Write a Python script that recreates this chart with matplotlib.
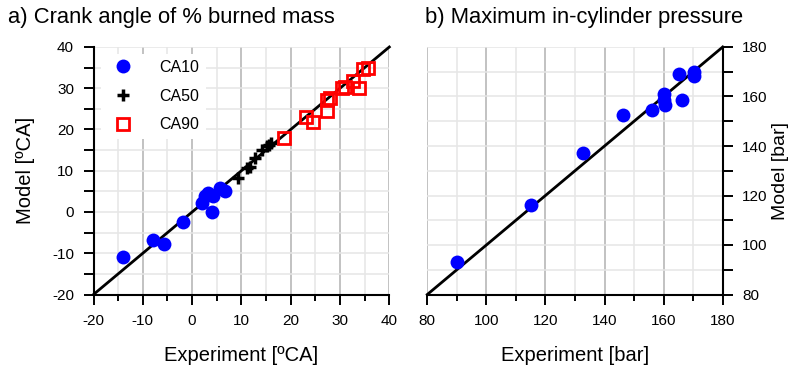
import numpy as np
import matplotlib
matplotlib.use('Agg')
import matplotlib.pyplot as plt
from matplotlib.ticker import MultipleLocator

plt.rcParams['font.family'] = ['Liberation Sans', 'DejaVu Sans']
plt.rcParams['axes.unicode_minus'] = False

# a) crank angle of % burned mass [ºCA]
ca10_exp = [-14.1, -8.0, -5.8, -1.9, 2.1, 4.1, 3.3, 4.3, 5.7, 6.7, 2.6]
ca10_mod = [-10.8, -6.7, -7.7, -2.5, 2.2, 0.1, 4.6, 3.8, 5.8, 5.0, 3.8]
ca50_exp = [9.4, 11.1, 11.7, 12.8, 14.1, 15.1, 16.1, 15.6]
ca50_mod = [8.2, 10.6, 11.0, 13.1, 15.1, 15.9, 16.7, 16.2]
ca90_exp = [18.6, 23.1, 24.5, 27.3, 27.3, 28.0, 30.5, 31.0, 32.7, 33.8, 34.7, 35.7]
ca90_mod = [18.0, 23.1, 21.7, 24.6, 27.2, 27.6, 30.1, 30.4, 31.8, 30.1, 34.6, 34.8]

# b) maximum in-cylinder pressure [bar]
pmax_exp = [90.0, 115.1, 132.8, 146.4, 156.0, 160.1, 160.1, 160.5, 166.3, 165.3, 170.4, 170.4]
pmax_mod = [93.1, 116.0, 137.3, 152.4, 154.7, 161.2, 158.4, 156.4, 158.4, 169.2, 169.9, 168.2]

fig = plt.figure(figsize=(7.94, 3.69), dpi=100)
ax1 = fig.add_axes([93.5/794, 1-294.5/369, 295.8/794, 247.5/369])
ax2 = fig.add_axes([427.3/794, 1-294.5/369, 295.4/794, 247.5/369])

blue = '#0000ff'

def style(ax, lo, hi, major, minor, side):
    ax.set_xlim(lo, hi)
    ax.set_ylim(lo, hi)
    ax.xaxis.set_major_locator(MultipleLocator(major))
    ax.xaxis.set_minor_locator(MultipleLocator(minor))
    ax.yaxis.set_major_locator(MultipleLocator(major))
    ax.yaxis.set_minor_locator(MultipleLocator(minor))
    ax.grid(True, axis='x', which='major', color='#bdbdbd', lw=1.3)
    ax.grid(True, axis='x', which='minor', color='#e6e6e6', lw=1.1)
    ax.grid(True, axis='y', which='both', color='#e6e6e6', lw=1.1)
    ax.set_axisbelow(True)
    for s in ax.spines.values():
        s.set_visible(False)
    ax.spines['bottom'].set_visible(True)
    ax.spines[side].set_visible(True)
    ax.spines['bottom'].set_linewidth(1.5)
    ax.spines[side].set_linewidth(1.5)
    ax.tick_params(which='both', direction='out', width=1.4,
                   labelsize=11, top=False,
                   left=(side == 'left'), right=(side == 'right'),
                   labelleft=(side == 'left'), labelright=(side == 'right'))
    ax.tick_params(which='major', length=7, pad=7)
    ax.tick_params(which='minor', length=4.5)
    ax.plot([lo, hi], [lo, hi], color='k', lw=2, zorder=2, clip_on=False)

style(ax1, -20, 40, 10, 5, 'left')
style(ax2, 80, 180, 20, 10, 'right')
ax1.tick_params(axis='y', which='minor', length=7)
ax2.tick_params(axis='y', which='minor', length=7)
ax2.yaxis.set_label_position('right')

ax1.plot(ca10_exp, ca10_mod, 'o', color=blue, ms=10, mec='none', label='CA10', zorder=3)
ax1.plot(ca50_exp, ca50_mod, '+', color='k', ms=9, mew=2.5, label='CA50', zorder=3)
ax1.plot(ca90_exp, ca90_mod, 's', mfc='none', mec='#ff0000', ms=8, mew=2, label='CA90', zorder=3)
ax1.legend(loc='upper left', frameon=True, framealpha=1, edgecolor='none',
           fontsize=11.5, handletextpad=1.3, borderpad=0.4, labelspacing=0.85,
           borderaxespad=0, bbox_to_anchor=(0.024, 0.973), fancybox=False)

ax2.plot(pmax_exp, pmax_mod, 'o', color=blue, ms=10, mec='none', zorder=3)

ax1.set_xlabel('Experiment [ºCA]', fontsize=14.5, labelpad=13)
ax1.set_ylabel('Model [ºCA]', fontsize=14.5, labelpad=12)
ax2.set_xlabel('Experiment [bar]', fontsize=14.5, labelpad=13)
ax2.set_ylabel('Model [bar]', fontsize=14, labelpad=3)

fig.text(8/794, 1-17/369, 'a) Crank angle of % burned mass', fontsize=15.8, va='center')
fig.text(425/794, 1-17/369, 'b) Maximum in-cylinder pressure', fontsize=15.8, va='center')

fig.savefig('out.png', dpi=100)
